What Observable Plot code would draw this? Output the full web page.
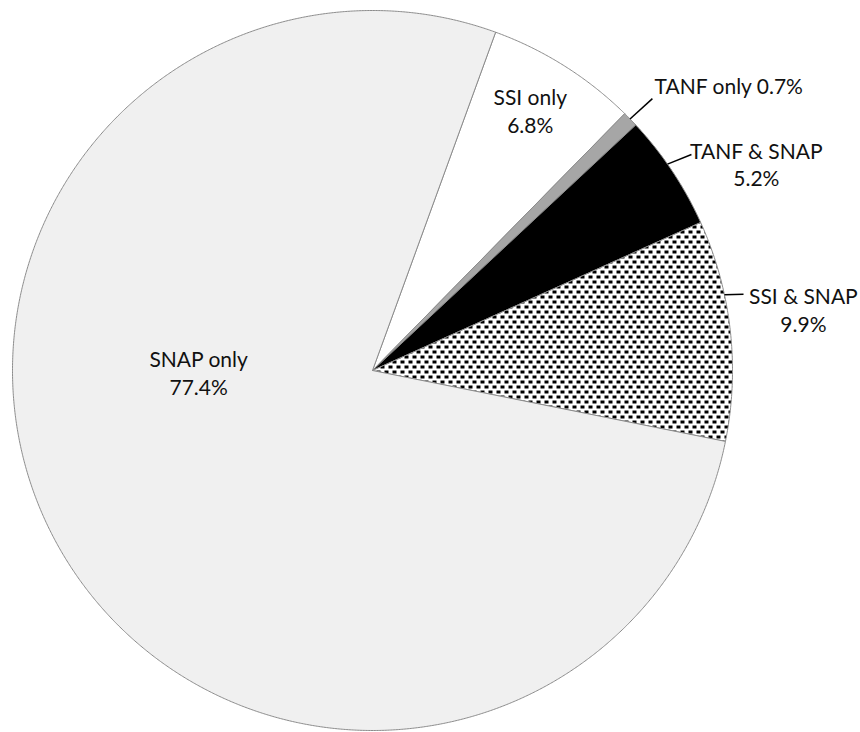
<!DOCTYPE html>
<html><head><meta charset="utf-8">
<script src="https://cdn.jsdelivr.net/npm/d3@7"></script>
<script src="https://cdn.jsdelivr.net/npm/@observablehq/plot@0.6"></script>
<style>html,body{margin:0;padding:0;background:#fff}</style>
</head><body><div id="chart"></div>
<script>
// ---- data ----
const categories = ["SSI only", "TANF only", "TANF & SNAP", "SSI & SNAP", "SNAP only"];
const shares = [6.8, 0.7, 5.2, 9.9, 77.4];
const valueLabels = ["6.8%", "0.7%", "5.2%", "9.9%", "77.4%"];

// ---- styling / placement (not data) ----
const fills = ["#ffffff", "#a6a6a6", "#000000", "url(#confetti)", "#f0f0f0"];
const startAngleDeg = 20; // first slice starts 20° clockwise from 12 o'clock
// label placement in polar terms: degrees clockwise from 12 o'clock, radius in pie radii
const labelAngle = [31.2, 44.7, 61.7, 81.9, 269.5];
const labelRadius = [0.846, 1.114, 1.211, 1.209, 0.483];
const labelAnchor = ["middle", "start", "middle", "middle", "middle"];
const labelOneLine = [false, true, false, false, false];
const leaderAngle = [null, [45.67, 45.83], [55.03, 55.9], [77.85, 78.4], null];
const leaderRadius = [null, [1, 1.084], [1, 1.07], [1, 1.052], null];

const rad = d => d * Math.PI / 180;
const px = (deg, r) => r * Math.sin(rad(deg));
const py = (deg, r) => r * Math.cos(rad(deg));

// slices
let cum = 0;
const slices = categories.map((c, i) => {
  const a0 = startAngleDeg + 3.6 * cum;
  cum += shares[i];
  const a1 = startAngleDeg + 3.6 * cum;
  const pts = [{x: 0, y: 0}];
  const n = Math.max(2, Math.ceil((a1 - a0) / 0.25));
  for (let k = 0; k <= n; k++) {
    const a = a0 + (a1 - a0) * k / n;
    pts.push({x: px(a, 1), y: py(a, 1)});
  }
  pts.push({x: 0, y: 0});
  return {cat: c, fill: fills[i], pts};
});

const labels = categories.map((c, i) => ({
  text: labelOneLine[i] ? `${c} ${valueLabels[i]}` : `${c}\n${valueLabels[i]}`,
  x: px(labelAngle[i], labelRadius[i]),
  y: py(labelAngle[i], labelRadius[i]),
  anchor: labelAnchor[i]
}));

const leaders = categories.map((c, i) => leaderAngle[i] && ({
  x1: px(leaderAngle[i][0], leaderRadius[i][0]), y1: py(leaderAngle[i][0], leaderRadius[i][0]),
  x2: px(leaderAngle[i][1], leaderRadius[i][1]), y2: py(leaderAngle[i][1], leaderRadius[i][1])
})).filter(Boolean);

const defsMark = () => {
  const defs = d3.create("svg:defs");
  const p = defs.append("pattern").attr("id", "confetti").attr("patternUnits", "userSpaceOnUse")
    .attr("width", 8).attr("height", 10);
  p.append("rect").attr("width", 8).attr("height", 10).attr("fill", "#fff");
  [[0, 0], [4, 5]].forEach(([x, y]) =>
    p.append("rect").attr("x", x).attr("y", y).attr("width", 4).attr("height", 3).attr("fill", "#000"));
  return defs.node();
};

const chart = Plot.plot({
  width: 860,
  height: 732,
  margin: 0,
  x: {domain: [-1, 1], range: [12, 732], axis: null},
  y: {domain: [-1, 1], range: [730, 10], axis: null},
  style: {fontFamily: "Lato, 'Open Sans', sans-serif", fontSize: "21px", color: "#000", background: "#fff"},
  marks: [
    defsMark,
    ...slices.map(s => Plot.line(s.pts, {x: "x", y: "y", fill: s.fill, stroke: "#8c8c8c", strokeWidth: 1, strokeLinejoin: "miter"})),
    Plot.link(leaders, {x1: "x1", y1: "y1", x2: "x2", y2: "y2", stroke: "#000", strokeWidth: 1.5}),
    Plot.text(labels.filter(d => d.anchor === "middle"), {x: "x", y: "y", text: "text", textAnchor: "middle", lineHeight: 1.31, fontSize: 21, fill: "#111"}),
    Plot.text(labels.filter(d => d.anchor === "start"), {x: "x", y: "y", text: "text", textAnchor: "start", lineHeight: 1.31, fontSize: 21, fill: "#111"})
  ]
});
document.getElementById("chart").appendChild(chart);
</script>
</body></html>
